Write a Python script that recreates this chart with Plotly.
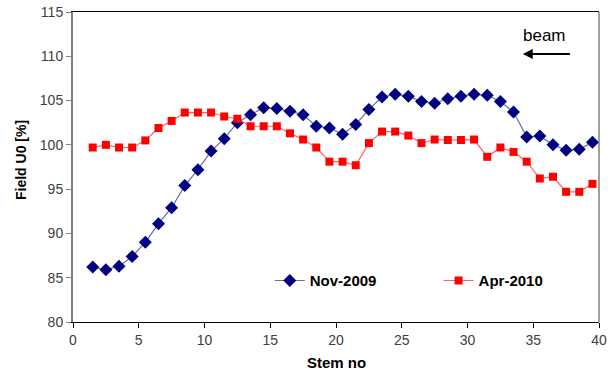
import plotly.graph_objects as go

stem = [1.5, 2.5, 3.5, 4.5, 5.5, 6.5, 7.5, 8.5, 9.5, 10.5, 11.5, 12.5, 13.5,
        14.5, 15.5, 16.5, 17.5, 18.5, 19.5, 20.5, 21.5, 22.5, 23.5, 24.5, 25.5,
        26.5, 27.5, 28.5, 29.5, 30.5, 31.5, 32.5, 33.5, 34.5, 35.5, 36.5, 37.5,
        38.5, 39.5]

nov_2009 = [86.2, 85.9, 86.3, 87.4, 89.0, 91.1, 92.9, 95.4, 97.2, 99.3, 100.7,
            102.5, 103.4, 104.2, 104.1, 103.8, 103.4, 102.1, 101.9, 101.2, 102.3,
            104.0, 105.4, 105.7, 105.5, 104.9, 104.7, 105.2, 105.5, 105.7, 105.6,
            104.9, 103.7, 100.9, 101.0, 100.0, 99.4, 99.5, 100.3]

apr_2010 = [99.7, 100.0, 99.7, 99.7, 100.5, 101.9, 102.7, 103.65, 103.65, 103.65,
            103.2, 102.95, 102.1, 102.1, 102.1, 101.3, 100.6, 99.7, 98.1, 98.1,
            97.7, 100.2, 101.5, 101.5, 101.05, 100.2, 100.6, 100.55, 100.55, 100.6,
            98.65, 99.7, 99.2, 98.1, 96.2, 96.4, 94.7, 94.7, 95.6]

x_ticks = [0, 5, 10, 15, 20, 25, 30, 35, 40]
y_ticks = [80, 85, 90, 95, 100, 105, 110, 115]

font_family = "Liberation Sans, Arial, sans-serif"

fig = go.Figure()
fig.add_trace(go.Scatter(
    x=stem, y=nov_2009, name="<b>Nov-2009</b>", mode="lines+markers",
    line=dict(color="#6a6ab4", width=1.2),
    marker=dict(symbol="diamond", size=10, color="#000080"),
    legend="legend",
))
fig.add_trace(go.Scatter(
    x=stem, y=apr_2010, name="<b>Apr-2010</b>", mode="lines+markers",
    line=dict(color="#ff6060", width=1.2),
    marker=dict(symbol="square", size=8, color="#ff0000"),
    legend="legend2",
))

legend_style = dict(
    xanchor="left", yanchor="middle", bgcolor="rgba(0,0,0,0)",
    font=dict(size=15, color="black", family=font_family),
    itemwidth=30, borderwidth=0,
)

fig.update_layout(
    width=611, height=372,
    margin=dict(l=73, r=12, t=12, b=50, autoexpand=False),
    paper_bgcolor="white", plot_bgcolor="white",
    font=dict(family=font_family, size=14, color="#404040"),
    showlegend=True,
    legend=dict(x=0.374, y=0.133, **legend_style),
    legend2=dict(x=0.695, y=0.133, **legend_style),
    xaxis=dict(
        range=[0, 40], tickvals=x_ticks, showgrid=False, zeroline=False,
        showline=True, linecolor="black", linewidth=1, mirror=True,
        ticks="outside", ticklen=5, tickcolor="black", automargin=False,
    ),
    yaxis=dict(
        range=[80, 115], tickvals=y_ticks, showgrid=False, zeroline=False,
        showline=True, linecolor="#808080", linewidth=2,
        ticks="outside", ticklen=5, tickcolor="#808080", automargin=False,
    ),
)

# right frame edge
fig.add_shape(type="line", xref="paper", yref="paper", x0=1, x1=1, y0=0, y1=1,
              line=dict(color="#404040", width=1))

# axis titles
fig.add_annotation(x=0.5, y=0, xref="paper", yref="paper", yshift=-40,
                   xanchor="center", yanchor="middle",
                   text="<b>Stem no</b>", showarrow=False,
                   font=dict(size=15, color="black", family=font_family))
fig.add_annotation(x=0, y=0.5, xref="paper", yref="paper", xshift=-52, yshift=7,
                   xanchor="center", yanchor="middle",
                   text="<b>Field U0 [%]</b>", textangle=-90, showarrow=False,
                   font=dict(size=14, color="black", family=font_family))

# beam direction marker
fig.add_annotation(x=35.85, y=112.4, xref="x", yref="y", text="beam", showarrow=False,
                   font=dict(size=17, color="black", family=font_family))
fig.add_annotation(x=34.2, y=110.25, ax=37.9, ay=110.25, xref="x", yref="y",
                   axref="x", ayref="y", text="", showarrow=True,
                   arrowhead=2, arrowsize=1, arrowwidth=2, arrowcolor="black")

fig.write_html("out.html")
